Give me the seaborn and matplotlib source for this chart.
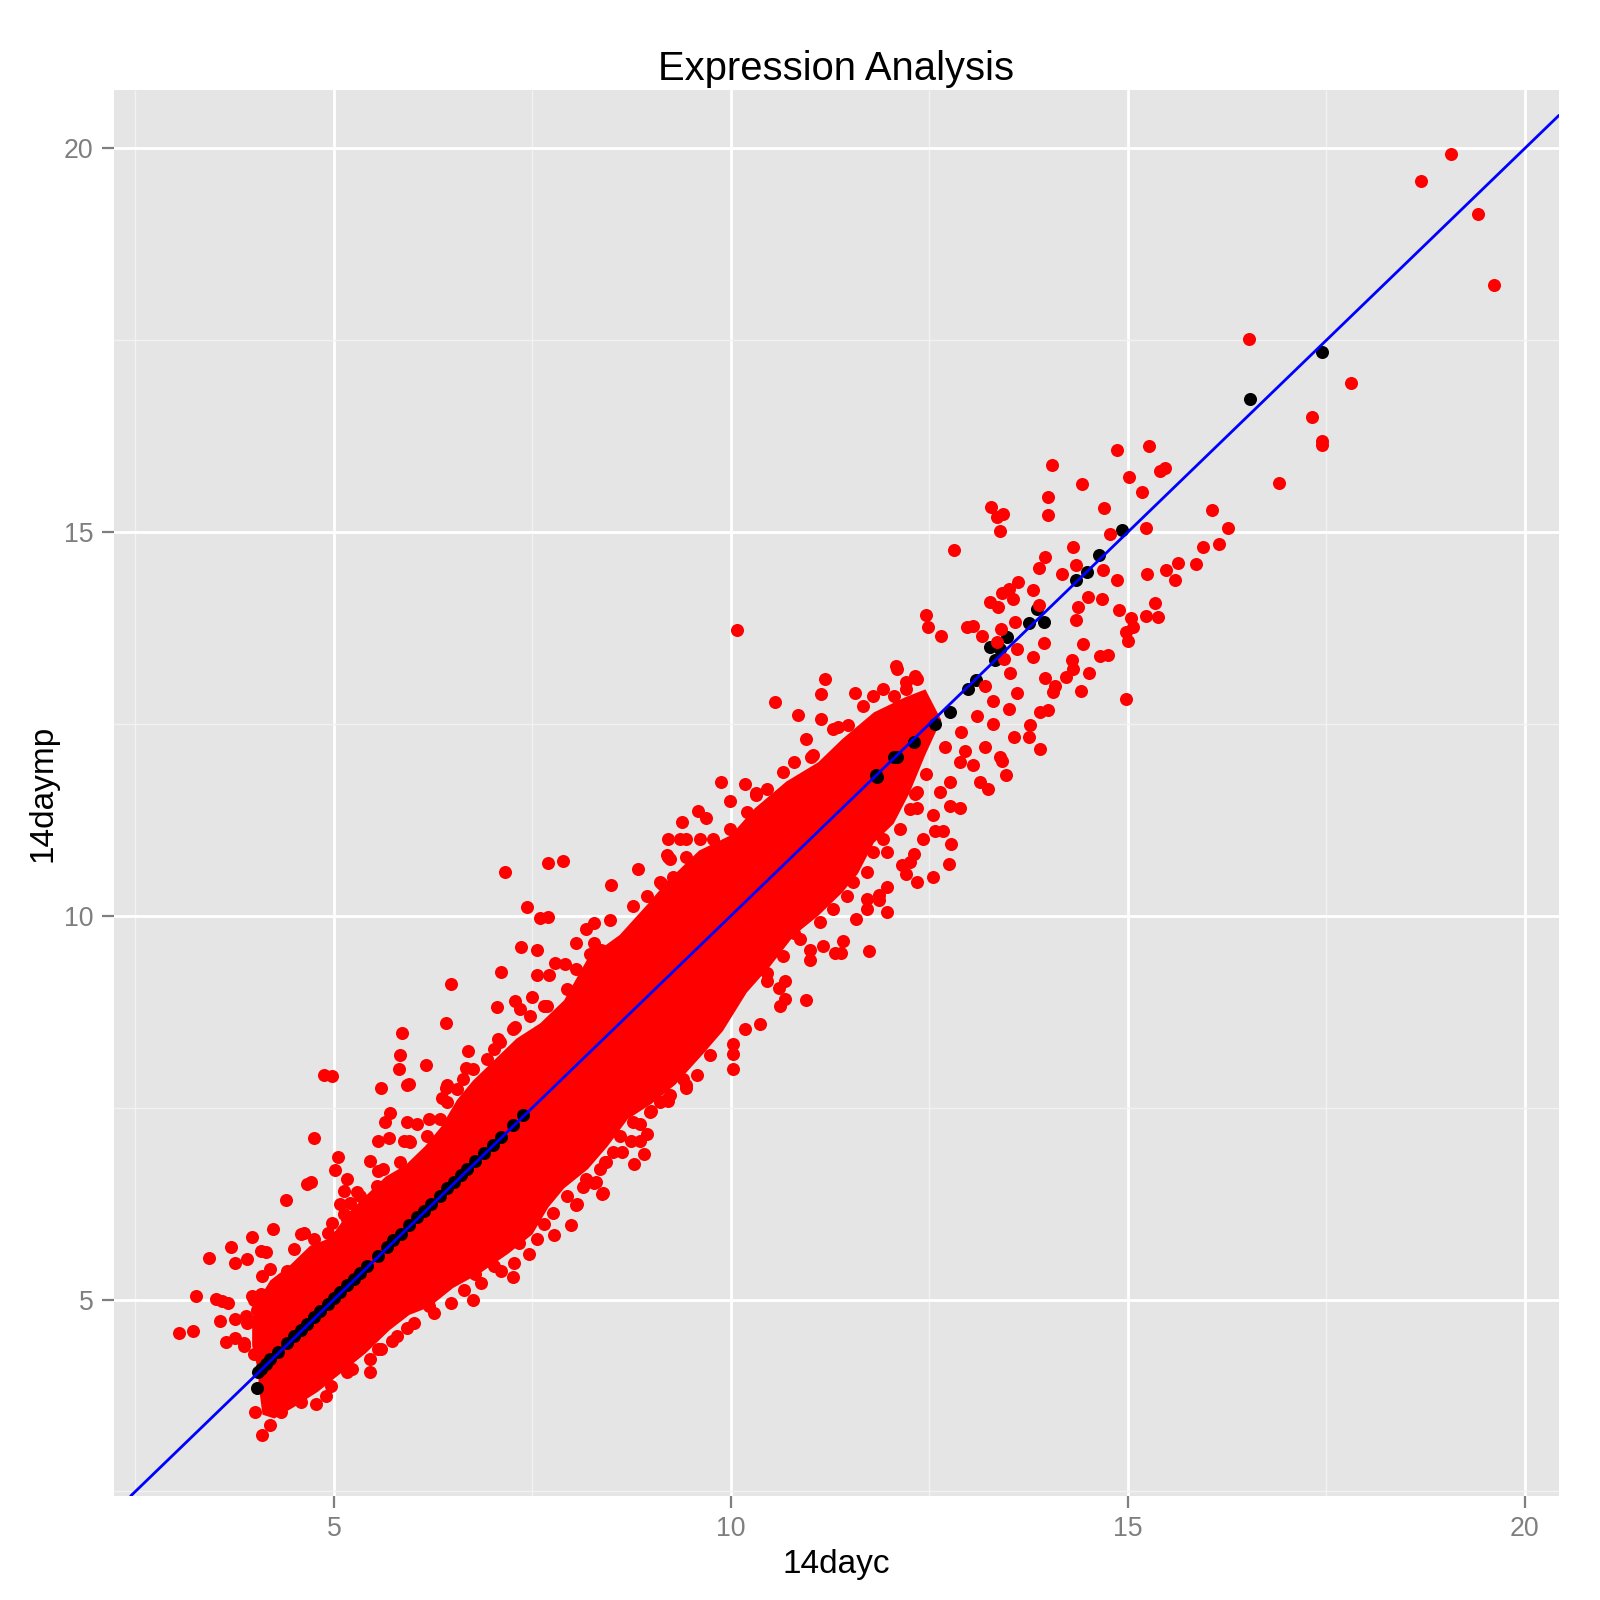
import matplotlib
matplotlib.use("Agg")
import matplotlib.pyplot as plt
from matplotlib.ticker import FixedLocator
import pandas as pd
import seaborn as sns

title = "Expression Analysis"
x_label = "14dayc"
y_label = "14daymp"
major_ticks = [5, 10, 15, 20]
minor_ticks = [2.5, 7.5, 12.5, 17.5]
x_lim = (2.23, 20.43)
y_lim = (2.44, 20.76)
line_intercept = 0
line_slope = 1

# outline of the dense core of the cloud, where single points merge into one red mass
core_x = [4.05, 3.97, 3.97, 4.05, 4.20, 4.45, 4.70, 4.95, 5.20, 5.45, 5.65, 5.90, 6.15, 6.35,
          6.55, 6.75, 7.00, 7.30, 7.60, 7.90, 8.20, 8.60, 8.95, 9.20, 9.60, 10.00, 10.30, 10.70,
          11.10, 11.40, 11.80, 12.20, 12.45,
          12.65, 12.45, 12.25, 12.05, 11.80, 11.60, 11.40, 11.10, 10.80, 10.50, 10.20, 9.90, 9.65,
          9.30, 9.00, 8.70, 8.45, 8.20, 7.90, 7.70, 7.50, 7.20, 6.85, 6.50, 6.20, 5.95, 5.70,
          5.40, 5.10, 4.80, 4.50, 4.25, 4.10, 4.05]
core_y = [4.05, 4.40, 4.75, 5.00, 5.25, 5.45, 5.70, 5.80, 6.15, 6.40, 6.60, 6.75, 7.00, 7.25,
          7.60, 7.85, 8.10, 8.40, 8.60, 8.90, 9.45, 9.75, 10.15, 10.45, 10.85, 11.05, 11.40, 11.75,
          12.00, 12.30, 12.65, 12.85, 12.95,
          12.55, 12.10, 11.60, 11.20, 10.95, 10.55, 10.30, 10.00, 9.75, 9.35, 9.00, 8.50, 8.20,
          7.80, 7.55, 7.35, 7.00, 6.70, 6.45, 6.20, 5.85, 5.60, 5.35, 5.15, 4.90, 4.80, 4.60,
          4.30, 4.05, 3.80, 3.60, 3.45, 3.50, 3.90]

# points outside the core (14dayc, 14daymp)
red_points = [
    (19.07, 19.93), (18.69, 19.58), (19.41, 19.14), (19.61, 18.22), (16.52, 17.51), (17.81, 16.94),
    (17.32, 16.50), (17.44, 16.19), (17.44, 16.13), (16.90, 15.64),
    (14.86, 16.07), (15.27, 16.12), (14.05, 15.87), (14.42, 15.63), (15.01, 15.72), (15.40, 15.80),
    (15.47, 15.83), (15.18, 15.52), (14.00, 15.46), (14.00, 15.22), (13.27, 15.33), (13.43, 15.24),
    (13.35, 15.20), (13.39, 15.02), (14.70, 15.31), (16.06, 15.29), (16.26, 15.05), (14.77, 14.98),
    (15.23, 15.05), (12.81, 14.77), (15.94, 14.81), (16.15, 14.85), (14.31, 14.80), (13.95, 14.67),
    (13.88, 14.53), (14.35, 14.57), (14.17, 14.45), (14.69, 14.50), (14.86, 14.38), (15.24, 14.45),
    (15.48, 14.50), (15.63, 14.60), (15.86, 14.59), (15.59, 14.37), (13.61, 14.35), (13.50, 14.26),
    (13.41, 14.21), (13.81, 14.24), (13.26, 14.09), (13.37, 14.03), (13.55, 14.13), (13.88, 14.05),
    (14.50, 14.15), (14.67, 14.13), (14.37, 14.02), (14.35, 13.85), (14.89, 13.98), (15.04, 13.88),
    (15.07, 13.76), (15.23, 13.90), (15.38, 13.89), (15.34, 14.08), (15.00, 13.58), (14.98, 13.70),
    (13.58, 13.83), (13.40, 13.74), (13.16, 13.65), (12.97, 13.76), (13.05, 13.78), (12.65, 13.65),
    (12.46, 13.92), (12.48, 13.76), (12.09, 13.21), (13.35, 13.57), (13.60, 13.48), (13.94, 13.55),
    (13.81, 13.37), (13.44, 13.35), (13.51, 13.17), (14.43, 13.54), (14.29, 13.33), (14.31, 13.22),
    (14.22, 13.11), (14.51, 13.17), (14.08, 13.00), (14.06, 12.91), (14.41, 12.93), (13.96, 13.10),
    (14.65, 13.39), (14.75, 13.40), (14.97, 12.83), (13.89, 12.65), (14.00, 12.68), (13.77, 12.48),
    (13.56, 12.33), (13.75, 12.33), (13.89, 12.17), (13.39, 12.07), (13.41, 12.02), (13.46, 11.83),
    (13.14, 11.74), (13.24, 11.65), (13.05, 11.96), (12.88, 12.00), (12.76, 11.74), (12.63, 11.61),
    (12.46, 11.85), (12.32, 11.59), (13.20, 13.00), (13.30, 12.80), (13.10, 12.60), (13.30, 12.50),
    (12.90, 12.40), (13.20, 12.20), (13.60, 12.90), (13.50, 12.70), (12.70, 12.20), (12.95, 12.15),
    (10.08, 13.72), (7.15, 10.57), (7.70, 10.69), (7.89, 10.72), (8.83, 10.61), (8.49, 10.40),
    (7.43, 10.12), (7.59, 9.97), (7.70, 9.99), (7.36, 9.59), (7.56, 9.56), (7.10, 9.27),
    (7.56, 9.23), (7.71, 9.23), (7.78, 9.39), (7.91, 9.37), (8.05, 9.65), (8.05, 9.31),
    (6.47, 9.11), (6.41, 8.60), (5.86, 8.47), (5.83, 8.18), (5.82, 8.00), (6.16, 8.06),
    (5.94, 7.81), (5.59, 7.76), (4.87, 7.92), (4.98, 7.91), (6.42, 7.79), (6.36, 7.62),
    (6.69, 8.24), (6.66, 8.02), (6.93, 8.13), (7.07, 8.39), (7.05, 8.81), (7.28, 8.89),
    (7.34, 8.79), (7.49, 8.94), (7.64, 8.83), (7.28, 8.55), (8.27, 9.90), (8.48, 9.94),
    (8.22, 9.50), (8.37, 9.55), (8.77, 10.13), (9.13, 10.42), (9.21, 11.00), (9.38, 11.22),
    (9.59, 11.37), (9.69, 11.28), (9.21, 10.77), (9.36, 11.00), (9.44, 10.77), (9.23, 10.74),
    (12.08, 13.25), (11.19, 13.08), (11.14, 12.89), (10.55, 12.78), (10.84, 12.62), (11.14, 12.56),
    (11.56, 12.90), (12.21, 13.04), (12.32, 13.13), (11.35, 12.46), (11.48, 12.48), (10.95, 12.31),
    (9.88, 11.74), (10.18, 11.72), (9.99, 11.49), (10.32, 11.60), (11.01, 12.07),
    (10.79, 9.78), (11.86, 10.27), (12.34, 10.44), (11.96, 10.83),
    (10.03, 8.00), (10.03, 8.20), (10.03, 8.33), (10.37, 8.59), (10.18, 8.52), (10.62, 8.82),
    (10.68, 8.91), (10.94, 8.90), (10.68, 9.15), (11.00, 9.43), (11.16, 9.61), (11.31, 9.52),
    (11.39, 9.52), (11.41, 9.67), (11.74, 9.54), (11.58, 9.96), (11.97, 10.05), (11.71, 10.09),
    (12.21, 10.55), (12.54, 10.51), (12.75, 10.67), (12.77, 10.94), (12.67, 11.11), (12.57, 11.11),
    (12.42, 11.00), (12.30, 10.80), (12.34, 11.40), (12.55, 11.31), (12.88, 11.40), (12.76, 11.43),
    (11.96, 10.37), (11.86, 10.20), (12.15, 10.66), (12.25, 10.70), (11.71, 10.22), (11.00, 9.56),
    (10.60, 9.06), (10.45, 9.15),
    (8.78, 6.76), (8.90, 6.89), (8.63, 6.92), (8.38, 6.37), (8.30, 6.53), (8.14, 6.47),
    (8.05, 6.23), (7.98, 5.97), (7.77, 5.84), (7.56, 5.79), (7.64, 5.98), (9.20, 7.61),
    (8.99, 7.46), (9.43, 7.76), (8.86, 7.07), (8.74, 7.07), (8.42, 6.79),
    (9.57, 7.92), (9.44, 7.79), (9.21, 7.59), (8.94, 7.16), (8.85, 7.29), (8.06, 6.24),
    (8.39, 6.39), (8.27, 6.52), (8.43, 6.79),
    (4.75, 7.10), (5.05, 6.86), (5.01, 6.69), (4.66, 6.51), (4.71, 6.53), (4.40, 6.30),
    (4.23, 5.92), (3.97, 5.82), (3.70, 5.69), (3.43, 5.54), (3.75, 5.47), (3.90, 5.53),
    (4.08, 5.63), (4.14, 5.62), (4.10, 5.31), (3.26, 5.04), (3.51, 5.01), (3.66, 4.96),
    (3.59, 4.98), (3.05, 4.56), (3.23, 4.59), (3.57, 4.72), (3.75, 4.74), (3.64, 4.45),
    (3.76, 4.50), (4.08, 5.07), (4.03, 4.87), (3.97, 5.05), (4.33, 5.09), (3.89, 4.79),
    (3.87, 4.40), (3.99, 4.29), (4.01, 3.53), (4.10, 3.24), (4.20, 3.37), (4.41, 5.37),
    (4.50, 5.22), (4.58, 5.85), (4.62, 5.87), (4.98, 6.00), (5.17, 6.05), (5.13, 6.11),
    (5.08, 6.24), (5.13, 6.42), (5.17, 6.57), (5.29, 6.40), (5.55, 7.07), (5.69, 7.11),
    (5.64, 7.31), (5.71, 7.43), (5.92, 7.79), (5.92, 7.31), (6.05, 7.29), (5.88, 7.07),
    (6.20, 7.35), (6.41, 7.76), (5.46, 6.81), (5.55, 6.68), (5.94, 7.07),
    (4.77, 3.64), (4.90, 3.74), (5.46, 4.05), (5.46, 4.22), (5.73, 4.46), (5.92, 4.63),
    (6.20, 4.92), (6.47, 4.96), (6.75, 5.00), (7.02, 5.44), (7.25, 5.29), (7.46, 5.59),
    (7.33, 5.74), (6.78, 5.33), (7.10, 5.37), (5.23, 4.09), (5.55, 4.35),
    # points on the rim of the core
    (8.94, 10.26), (9.11, 10.44), (9.27, 10.50), (9.19, 10.79), (9.44, 11.00), (9.61, 11.00),
    (9.78, 11.00), (9.99, 11.13), (10.20, 11.35), (10.32, 11.57), (10.45, 11.65), (10.66, 11.87),
    (10.79, 12.00), (11.04, 12.09), (11.29, 12.44), (11.67, 12.74), (11.79, 12.87), (11.92, 12.96),
    (12.05, 12.87), (12.21, 12.96), (12.34, 13.09),
    (12.34, 11.61), (12.25, 11.39), (12.13, 11.13), (11.92, 11.00), (11.79, 10.83), (11.71, 10.57),
    (11.54, 10.44), (11.46, 10.26), (11.29, 10.09), (11.12, 9.92), (10.87, 9.70), (10.66, 9.48),
    (10.45, 9.26),
    (8.18, 9.83), (8.27, 9.65), (7.93, 9.05), (7.68, 8.83), (7.47, 8.70), (7.26, 8.52),
    (7.09, 8.35), (7.01, 8.26), (6.75, 8.00), (6.63, 7.87), (6.55, 7.74), (6.42, 7.57),
    (6.34, 7.35), (6.17, 7.13), (5.96, 7.05), (5.83, 6.79), (5.62, 6.70), (5.54, 6.48),
    (5.33, 6.35), (5.20, 6.26),
    (9.74, 8.18), (9.40, 7.87), (9.23, 7.66), (9.11, 7.57), (8.98, 7.44), (8.77, 7.31),
    (8.60, 7.13), (8.52, 6.92), (8.35, 6.70), (8.18, 6.57), (7.93, 6.35), (7.76, 6.13),
    (6.01, 4.70), (5.80, 4.53), (5.59, 4.35), (5.17, 4.05), (4.96, 3.87), (4.58, 3.66),
    (4.33, 3.53), (6.26, 4.83), (6.64, 5.13), (6.85, 5.22), (7.27, 5.48),
    (4.20, 5.40), (3.99, 5.00), (3.91, 4.70), (3.87, 4.44), (4.50, 5.66), (4.75, 5.79),
    (4.92, 5.87),
]

# points lying close to the diagonal
black_points = [
    (17.44, 17.35), (16.54, 16.73), (14.92, 15.03), (14.64, 14.70), (14.48, 14.48), (14.35, 14.37),
    (13.85, 14.00), (13.94, 13.83), (13.75, 13.81), (13.48, 13.63), (13.26, 13.50), (13.39, 13.48),
    (13.33, 13.33), (13.09, 13.07), (12.99, 12.96), (12.76, 12.65), (12.57, 12.50), (12.30, 12.26),
    (12.09, 12.07), (11.84, 11.81), (12.05, 12.07), (11.83, 11.83),
    (4.03, 3.85), (4.04, 4.06), (4.08, 4.10), (4.14, 4.16), (4.20, 4.22), (4.30, 4.32),
    (4.41, 4.43), (4.50, 4.52), (4.58, 4.60), (4.66, 4.68), (4.75, 4.77), (4.83, 4.85),
    (4.92, 4.94), (5.00, 5.02), (5.08, 5.10), (5.17, 5.19), (5.25, 5.27), (5.33, 5.35),
    (5.42, 5.44), (5.55, 5.57), (5.67, 5.69), (5.75, 5.77), (5.84, 5.86), (5.95, 5.97),
    (6.05, 6.07), (6.13, 6.15), (6.22, 6.24), (6.33, 6.35), (6.43, 6.45), (6.51, 6.53),
    (6.60, 6.62), (6.68, 6.70), (6.78, 6.80), (6.89, 6.91), (7.00, 7.02), (7.10, 7.12),
    (7.25, 7.27), (7.38, 7.40),
]

red = pd.DataFrame(red_points, columns=[x_label, y_label])
black = pd.DataFrame(black_points, columns=[x_label, y_label])

sns.set_theme(style="darkgrid", rc={
    "axes.facecolor": "#E5E5E5",
    "grid.color": "white",
    "axes.edgecolor": "#E5E5E5",
})
plt.rcParams["font.family"] = ["Liberation Sans", "DejaVu Sans"]

fig, ax = plt.subplots(figsize=(8, 8), dpi=200)
fig.subplots_adjust(left=114 / 1600, right=1559 / 1600, bottom=1 - 1496 / 1600, top=1 - 90 / 1600)

ax.fill(core_x, core_y, color="#FF0000", linewidth=0, zorder=2)
sns.scatterplot(data=black, x=x_label, y=y_label, color="black", s=22, linewidth=0, ax=ax, zorder=3)
sns.scatterplot(data=red, x=x_label, y=y_label, color="#FF0000", s=22, linewidth=0, ax=ax, zorder=3)
ax.axline((0, line_intercept), slope=line_slope, color="#0000FF", linewidth=1.0, zorder=4)

ax.set_xlim(*x_lim)
ax.set_ylim(*y_lim)
ax.xaxis.set_major_locator(FixedLocator(major_ticks))
ax.yaxis.set_major_locator(FixedLocator(major_ticks))
ax.xaxis.set_minor_locator(FixedLocator(minor_ticks))
ax.yaxis.set_minor_locator(FixedLocator(minor_ticks))
ax.grid(which="major", color="white", linewidth=1.0)
ax.grid(which="minor", color="#F2F2F2", linewidth=0.5)
ax.set_axisbelow(True)
for s in ax.spines.values():
    s.set_visible(False)

ax.tick_params(axis="both", which="major", direction="out", length=4.3, width=0.8,
               color="#7F7F7F", labelcolor="#7F7F7F", labelsize=9.6, pad=3,
               bottom=True, left=True)
ax.tick_params(axis="both", which="minor", length=0, bottom=False, left=False)

ax.set_xlabel(x_label, fontsize=12, color="black", labelpad=2.5)
ax.set_ylabel(y_label, fontsize=12, color="black", labelpad=2)
ax.set_title(title, fontsize=14.4, color="black", pad=3.5)

fig.savefig("out.png", dpi=200)
